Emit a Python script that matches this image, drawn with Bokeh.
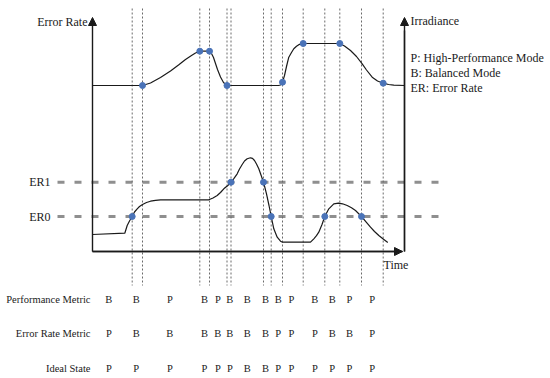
from bokeh.plotting import figure
from bokeh.models import Range1d, ColumnDataSource, Arrow, NormalHead
from bokeh.core.properties import value
from bokeh.embed import file_html
from bokeh.resources import INLINE

# ---------------- data ----------------
# switching instants on the time axis (vertical dotted lines)
boundaries = [131.7, 142.0, 199.3, 209.0, 226.5, 230.5, 263.0, 270.7, 282.0, 302.7, 324.3, 339.3, 361.0, 382.7]

# irradiance curve (upper trace)
irr_t = [92, 142, 150, 160, 170, 178, 185, 191, 195, 199.3, 209, 211, 213, 215, 217, 220, 223, 226.5,
         278, 280, 282, 284, 286, 288.3, 291, 293.3, 296, 298.3, 302.7, 339.3, 344, 350, 356, 361.7,
         366, 371.7, 377, 382.7, 388, 393.3, 404]
irr_v = [85, 85, 82.5, 77, 70.5, 64.5, 59, 55, 52.5, 50.7, 50.7, 53, 57, 63, 69, 76.5, 82, 85,
         85, 84.5, 81.7, 75, 66, 56.7, 52, 48.3, 45.8, 44.2, 43, 43, 45.5, 50, 56, 63.3,
         69.5, 76.7, 80.5, 82.7, 84, 84.7, 85]
irr_dot_t = [142, 199.3, 209, 226.5, 282, 302.7, 339.3, 382.7]
irr_dot_v = [85, 50.7, 50.7, 85, 81.7, 43, 43, 82.7]

# error-rate curve (lower trace)
er_t = [92, 124.3, 126.7, 129, 131.7, 134, 136.7, 139, 142, 146, 150, 155, 160, 208.3, 212.5, 216.7,
        220, 223.3, 227, 230.7, 233.5, 236.7, 239, 241.7, 244, 246.7, 250, 252, 254, 256, 258.3,
        260.5, 263, 264.5, 266, 268.5, 270.7, 273.3, 276.7, 280, 282, 310, 313.3, 316, 318.3,
        321.5, 324.3, 328.3, 333.3, 338, 342, 346.7, 351, 355, 361, 365.5, 370, 374, 378.3, 383, 387.3]
er_v = [234, 232.7, 225, 220.5, 216, 211.5, 208.3, 206, 204, 202, 200.7, 199.8, 199.3, 199.3, 197.5, 195,
        192, 188.3, 185.2, 181.7, 177.8, 173.3, 168.5, 164, 160.5, 158.3, 157.3, 157.8, 160, 163.5, 168.3,
        174.5, 181.7, 187.5, 193.3, 205, 216, 228.3, 236.7, 240.7, 241.7, 241.7, 238.3, 235.2, 231.7,
        224, 216, 208.3, 203.3, 202.7, 203.3, 205, 207.3, 210, 216, 221.3, 226.7, 231, 235, 238.7, 242]
er_dot_t = [131.7, 230.5, 263, 270.7, 324.3, 361]
er_dot_v = [216, 181.7, 181.7, 216, 216, 216]

# thresholds
thr_names = ["ER1", "ER0"]
thr_levels = [181.7, 216]

# mode table
row_names = ["Performance Metric", "Error Rate Metric", "Ideal State"]
interval_t = [108.3, 135.7, 169.3, 204, 217.3, 229.3, 246.7, 265, 277.7, 291, 314.3, 331.7, 349, 371.7]
perf = ["B", "B", "P", "B", "P", "B", "B", "B", "B", "P", "B", "B", "P", "P"]
err = ["P", "B", "B", "B", "B", "B", "B", "B", "P", "P", "P", "B", "B", "P"]
ideal = ["P", "P", "P", "P", "P", "P", "B", "B", "P", "P", "P", "P", "P", "P"]

legend_lines = ["P: High-Performance Mode", "B: Balanced Mode", "ER: Error Rate"]

# ---------------- layout ----------------
W, H = 550, 378
FONT = value("Liberation Serif")
INK = "#1a1a1a"
DOT = "#4a73b8"

p = figure(width=W, height=H, output_backend="svg", toolbar_location=None,
           x_range=Range1d(0, W), y_range=Range1d(H, 0),
           x_axis_location=None, y_axis_location=None, min_border=0,
           background_fill_color="white", border_fill_color="white")
p.grid.visible = False
p.outline_line_color = None

x0, x1 = 92, 404          # axis positions
y_base, y_top = 251, 17
row_y = [299.3, 333.3, 368.3]

# threshold dashed lines
for lvl in thr_levels:
    p.line([57, 440], [lvl, lvl], line_color="#8f8f8f", line_width=3, line_dash="7 10")

# vertical dotted lines
p.multi_line([[b, b] for b in boundaries], [[8, 285] for _ in boundaries],
             line_color="#6a6a6a", line_width=1, line_dash="2 2")

# axes
p.line([x0, 402], [y_base, y_base], line_color=INK, line_width=1.4)
p.line([x1, x1], [y_base, 30], line_color=INK, line_width=1.4)
for (xs, ys, xe, ye) in [(x0, y_base, x0, y_top), (x1, y_base, x1, y_top), (x0, y_base, 402, y_base)]:
    p.add_layout(Arrow(end=NormalHead(size=8, fill_color=INK, line_color=INK),
                       x_start=xs, y_start=ys, x_end=xe, y_end=ye,
                       line_color=INK, line_width=1.4))

# curves
p.line(irr_t, irr_v, line_color=INK, line_width=1.2)
p.line(er_t, er_v, line_color=INK, line_width=1.2)
p.scatter(irr_dot_t, irr_dot_v, marker="circle", size=6, color=DOT)
p.scatter(er_dot_t, er_dot_v, marker="circle", size=6, color=DOT)

def txt(xs, ys, texts, align="left", size="12px"):
    src = ColumnDataSource(dict(x=xs, y=ys, t=texts))
    p.text(x="x", y="y", text="t", source=src, text_font=FONT, text_font_size=size,
           text_color=INK, text_align=align, text_baseline="middle")

txt([87], [21], ["Error Rate"], align="right")
txt([410], [20], ["Irradiance"])
txt([383], [264], ["Time"])
txt([410, 410, 410], [57, 72, 87], legend_lines)
txt([50, 50], thr_levels, thr_names, align="right")

txt([90, 90, 90], row_y, row_names, align="right", size="10.5px")
for ry, row in zip(row_y, [perf, err, ideal]):
    txt(interval_t, [ry] * len(row), row, align="center", size="10.5px")

open("out.html", "w").write(file_html(p, INLINE))
